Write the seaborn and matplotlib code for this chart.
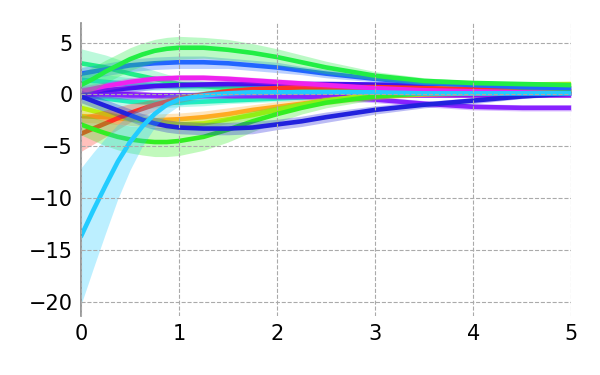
import numpy as np
import matplotlib
matplotlib.use("Agg")
import matplotlib.pyplot as plt
import seaborn as sns
import pandas as pd
sns.set(context='paper', style='white')

# time grid shared by all series
t = [0, 0.125, 0.25, 0.375, 0.5, 0.625, 0.75, 0.875, 1, 1.25, 1.5, 1.75, 2, 2.25, 2.5, 3, 3.5, 4, 4.5, 5]

red       = [-3.8, -3.3, -2.8, -2.3, -1.8, -1.4, -1.0, -0.7, -0.4, 0.0, 0.3, 0.5, 0.6, 0.7, 0.7, 0.7, 0.6, 0.5, 0.45, 0.4]
red_w     = [1.7, 1.5, 1.3, 1.1, 0.9, 0.7, 0.6, 0.5, 0.4, 0.3, 0.3, 0.2, 0.2, 0.2, 0.2, 0.2, 0.2, 0.2, 0.2, 0.2]
orange    = [-2.1, -2.15, -2.2, -2.3, -2.4, -2.45, -2.5, -2.45, -2.4, -2.2, -1.9, -1.5, -1.2, -0.9, -0.6, -0.2, 0.0, 0.1, 0.15, 0.2]
orange_w  = [0.6, 0.6, 0.6, 0.6, 0.6, 0.6, 0.6, 0.6, 0.6, 0.6, 0.6, 0.5, 0.5, 0.4, 0.4, 0.3, 0.2, 0.2, 0.2, 0.2]
ygreen    = [-1.3, -1.6, -1.9, -2.15, -2.4, -2.6, -2.8, -2.85, -2.9, -2.8, -2.4, -2.0, -1.5, -1.0, -0.6, 0.0, 0.5, 0.8, 0.95, 1.0]
ygreen_w  = [0.8, 0.75, 0.7, 0.65, 0.6, 0.55, 0.5, 0.5, 0.5, 0.5, 0.4, 0.4, 0.3, 0.3, 0.3, 0.2, 0.2, 0.2, 0.2, 0.2]
green2    = [-2.9, -3.35, -3.75, -4.1, -4.35, -4.5, -4.6, -4.6, -4.5, -4.1, -3.4, -2.6, -1.9, -1.3, -0.8, -0.2, 0.1, 0.2, 0.25, 0.3]
green2_w  = [1.0, 1.1, 1.2, 1.25, 1.3, 1.35, 1.4, 1.4, 1.4, 1.3, 1.2, 1.0, 0.8, 0.6, 0.5, 0.3, 0.2, 0.2, 0.2, 0.2]
green     = [0.9, 1.5, 2.2, 2.8, 3.4, 3.85, 4.2, 4.4, 4.5, 4.5, 4.3, 4.0, 3.6, 3.1, 2.6, 1.8, 1.3, 1.1, 1.0, 0.9]
green_w   = [1.2, 1.15, 1.1, 1.1, 1.1, 1.1, 1.1, 1.1, 1.1, 1.0, 1.0, 0.9, 0.8, 0.7, 0.6, 0.4, 0.3, 0.2, 0.2, 0.2]
spring    = [3.0, 2.8, 2.6, 2.3, 2.0, 1.75, 1.5, 1.25, 1.0, 0.8, 0.6, 0.5, 0.4, 0.35, 0.3, 0.3, 0.3, 0.3, 0.3, 0.3]
spring_w  = [1.4, 1.3, 1.2, 1.1, 1.0, 0.9, 0.8, 0.7, 0.6, 0.5, 0.4, 0.3, 0.3, 0.3, 0.3, 0.2, 0.2, 0.2, 0.2, 0.2]
turq      = [0.0, -0.2, -0.4, -0.55, -0.7, -0.75, -0.8, -0.8, -0.8, -0.7, -0.6, -0.5, -0.4, -0.3, -0.2, 0.0, 0.1, 0.1, 0.1, 0.1]
turq_w    = [1.5, 1.35, 1.2, 1.0, 0.8, 0.65, 0.5, 0.45, 0.4, 0.4, 0.3, 0.3, 0.3, 0.3, 0.2, 0.2, 0.2, 0.2, 0.2, 0.2]
cyan      = [1.4, 1.3, 1.2, 1.1, 1.0, 0.95, 0.9, 0.85, 0.8, 0.8, 0.8, 0.7, 0.7, 0.6, 0.6, 0.5, 0.4, 0.3, 0.3, 0.2]
cyan_w    = [0.8, 0.75, 0.7, 0.65, 0.6, 0.55, 0.5, 0.45, 0.4, 0.4, 0.3, 0.3, 0.3, 0.3, 0.2, 0.2, 0.2, 0.2, 0.2, 0.2]
sky       = [-13.7, -11.2, -8.8, -6.5, -4.6, -3.1, -1.9, -1.0, -0.5, -0.1, 0.1, 0.2, 0.2, 0.2, 0.2, 0.2, 0.1, 0.1, 0.1, 0.1]
sky_w     = [6.6, 5.6, 4.6, 3.6, 2.7, 1.9, 1.3, 0.9, 0.6, 0.4, 0.3, 0.3, 0.2, 0.2, 0.2, 0.2, 0.2, 0.2, 0.2, 0.2]
blue      = [2.0, 2.2, 2.4, 2.6, 2.8, 2.9, 3.0, 3.05, 3.1, 3.1, 3.0, 2.8, 2.6, 2.3, 2.0, 1.5, 1.1, 0.9, 0.7, 0.6]
blue_w    = [0.6, 0.6, 0.6, 0.6, 0.6, 0.6, 0.6, 0.6, 0.6, 0.6, 0.5, 0.5, 0.5, 0.4, 0.4, 0.3, 0.2, 0.2, 0.2, 0.2]
dblue     = [-0.2, -0.65, -1.1, -1.55, -2.0, -2.45, -2.8, -3.05, -3.2, -3.3, -3.3, -3.2, -2.9, -2.6, -2.2, -1.5, -1.0, -0.6, -0.2, 0.1]
dblue_w   = [0.6, 0.6, 0.6, 0.6, 0.6, 0.6, 0.6, 0.6, 0.6, 0.6, 0.6, 0.6, 0.5, 0.5, 0.5, 0.4, 0.3, 0.3, 0.2, 0.2]
indigo    = [0.2, 0.3, 0.4, 0.5, 0.6, 0.7, 0.8, 0.85, 0.9, 0.95, 1.0, 1.0, 1.0, 1.0, 1.0, 0.95, 0.9, 0.8, 0.7, 0.65]
indigo_w  = [0.5, 0.45, 0.4, 0.4, 0.4, 0.35, 0.3, 0.3, 0.3, 0.3, 0.3, 0.3, 0.3, 0.2, 0.2, 0.2, 0.2, 0.2, 0.2, 0.2]
violet    = [0.1, 0.1, 0.1, 0.05, 0.0, -0.05, -0.1, -0.1, -0.1, -0.1, -0.1, -0.1, -0.1, -0.1, -0.1, -0.1, -0.1, -0.1, -0.1, -0.1]
violet_w  = [0.5, 0.45, 0.4, 0.4, 0.4, 0.35, 0.3, 0.3, 0.3, 0.3, 0.3, 0.3, 0.2, 0.2, 0.2, 0.2, 0.2, 0.2, 0.2, 0.2]
purple    = [0.0, 0.0, 0.0, -0.05, -0.1, -0.1, -0.1, -0.1, -0.1, -0.1, -0.1, -0.1, -0.2, -0.2, -0.3, -0.5, -0.9, -1.2, -1.3, -1.3]
purple_w  = [0.5, 0.45, 0.4, 0.4, 0.4, 0.35, 0.3, 0.3, 0.3, 0.3, 0.3, 0.3, 0.3, 0.3, 0.3, 0.3, 0.3, 0.3, 0.3, 0.3]
magenta   = [0.3, 0.55, 0.8, 1.0, 1.2, 1.35, 1.5, 1.55, 1.6, 1.6, 1.5, 1.35, 1.2, 1.05, 0.9, 0.6, 0.4, 0.3, 0.2, 0.1]
magenta_w = [0.5, 0.45, 0.4, 0.4, 0.4, 0.35, 0.3, 0.3, 0.3, 0.3, 0.3, 0.3, 0.3, 0.3, 0.3, 0.2, 0.2, 0.2, 0.2, 0.2]

series = [
	(turq, turq_w, '#22eebb'),
	(cyan, cyan_w, '#22dddd'),
	(spring, spring_w, '#22ee88'),
	(violet, violet_w, '#9911ee'),
	(purple, purple_w, '#8822ff'),
	(indigo, indigo_w, '#4411ee'),
	(orange, orange_w, '#ffaa22'),
	(ygreen, ygreen_w, '#bbee11'),
	(red, red_w, '#ff3322'),
	(green2, green2_w, '#33ee22'),
	(magenta, magenta_w, '#ee22ee'),
	(blue, blue_w, '#2266ff'),
	(green, green_w, '#22ee44'),
	(dblue, dblue_w, '#2222dd'),
	(sky, sky_w, '#22ccff'),
]

fig, ax = plt.subplots(figsize=(6, 3.75), dpi=100)
fig.subplots_adjust(left=0.135, right=0.952, top=0.939, bottom=0.157)
for i, (y, w, c) in enumerate(series):
	df = pd.DataFrame({"t": t, "y": y})
	lo = np.array(y) - np.array(w)
	hi = np.array(y) + np.array(w)
	ax.fill_between(t, lo, hi, color=c, alpha=0.3, linewidth=0, zorder=1 + 0.05*i)
	sns.lineplot(data=df, x="t", y="y", color=c, linewidth=3.3, ax=ax, zorder=1.02 + 0.05*i)

ax.set(xlabel=None, ylabel=None, xlim=((0, 5)), ylim=((-21.4, 6.9)),
	xticks=(([0, 1, 2, 3, 4, 5])), yticks=(([-20, -15, -10, -5, 0, 5])))
# grid sits over the curves, as in the source figure
ax.set_axisbelow(False)
ax.grid(True, linestyle='--', color='#aaaaaa', linewidth=0.8)
for s in ['top', 'right', 'bottom']:
	ax.spines[s].set_visible(False)
ax.spines['left'].set_color('#888888')
ax.spines['left'].set_linewidth(1.2)
ax.tick_params(axis='both', labelsize=15, labelcolor='black', length=0, pad=6)
fig.savefig("out.png", dpi=100)
